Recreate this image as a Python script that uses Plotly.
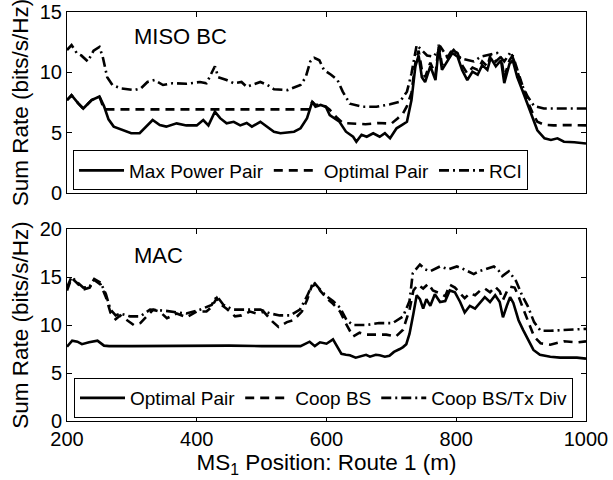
import plotly.graph_objects as go

# ---------------- Top panel: MISO BC ----------------
mpp_x = [200, 207, 217, 225, 238, 250, 257, 264, 272, 287, 299, 312, 322, 332, 343, 353, 369, 384, 400, 410,
         418, 428, 436, 446, 457, 467, 477, 485, 498, 509, 519, 529, 550, 560, 570, 578, 583, 591, 599, 605,
         620, 630, 641, 646, 654, 662, 672, 682, 690, 698, 708, 716, 724, 731, 737, 742, 747, 752, 760, 768,
         773, 778, 786, 794, 802, 809, 817, 825, 833, 840, 848, 853, 861, 869, 874, 882, 887, 894, 902, 910,
         918, 925, 936, 946, 956, 966, 982, 1000]
mpp_y = [7.7, 8.1, 7.45, 7.0, 7.7, 8.0, 7.2, 6.1, 5.5, 5.2, 4.95, 4.95, 5.5, 6.05, 5.63, 5.5, 5.77, 5.6, 5.6, 6.05,
         5.6, 6.74, 6.2, 5.77, 5.9, 5.6, 5.8, 5.5, 5.9, 5.5, 5.08, 4.95, 5.08, 5.36, 6.2, 7.56, 7.15, 7.3, 7.15, 6.46,
         5.9, 5.08, 4.66, 4.25, 4.83, 4.66, 4.95, 4.66, 4.95, 4.53, 5.36, 5.63, 5.9, 7.7, 10.5, 11.4, 9.6, 9.2, 10.5, 9.36,
         12.1, 10.2, 10.9, 11.6, 11.3, 10.2, 9.36, 10.05, 9.8, 10.6, 10.2, 11.2, 10.5, 11.0, 9.1, 10.7, 11.0, 9.6, 8.5, 7.4,
         6.3, 5.2, 4.53, 4.4, 4.53, 4.25, 4.2, 4.1]

op_x = [200, 207, 217, 225, 238, 250, 257, 300, 400, 500, 573, 578, 583, 591, 599, 605, 615, 625, 640, 660,
        680, 700, 710, 718, 724, 731, 737, 742, 747, 752, 760, 768, 773, 778, 786, 794, 802, 809, 817, 825,
        833, 840, 848, 853, 861, 869, 874, 882, 887, 894, 902, 910, 918, 925, 936, 950, 970, 1000]
op_y = [7.7, 8.1, 7.45, 7.0, 7.7, 8.0, 6.93, 6.93, 6.93, 6.93, 6.93, 7.56, 7.3, 7.3, 7.15, 6.9, 6.3, 5.8, 5.77, 5.7,
        5.8, 5.75, 6.2, 6.6, 7.2, 8.3, 10.8, 11.8, 10.2, 9.6, 10.8, 9.8, 12.3, 10.6, 11.2, 11.9, 11.6, 10.6, 9.9, 10.4,
        10.2, 10.9, 10.5, 11.5, 10.9, 11.3, 9.6, 11.0, 11.4, 10.2, 8.8, 7.6, 6.6, 5.9, 5.65, 5.6, 5.63, 5.6]

rci_x = [200, 207, 215, 222, 232, 241, 250, 255, 262, 270, 283, 304, 314, 324, 335, 348, 363, 384, 405, 415,
         428, 433, 446, 457, 469, 477, 498, 509, 519, 540, 560, 568, 575, 581, 589, 596, 607, 617, 625, 636,
         656, 677, 698, 713, 724, 731, 739, 747, 755, 765, 776, 786, 796, 807, 817, 827, 838, 848, 863, 874,
         884, 892, 899, 910, 920, 935, 1000]
rci_y = [11.85, 12.26, 11.6, 11.4, 10.9, 11.8, 12.1, 11.3, 9.6, 8.95, 8.67, 8.53, 8.67, 9.2, 9.36, 8.95, 9.1, 9.05, 9.2, 9.1,
         10.5, 9.6, 9.36, 9.1, 9.2, 8.8, 9.2, 8.95, 8.6, 8.53, 8.95, 9.6, 10.9, 11.2, 11.0, 10.2, 9.8, 9.36, 8.4, 7.4,
         7.15, 7.15, 7.35, 7.56, 8.4, 9.9, 12.26, 11.85, 11.4, 11.3, 12.1, 11.3, 11.85, 11.15, 11.0, 10.9, 11.3, 11.4, 11.6, 10.9,
         11.7, 10.5, 9.2, 8.0, 7.2, 7.0, 7.0]

# ---------------- Bottom panel: MAC ----------------
bop_x = [200, 208, 216, 223, 234, 247, 257, 265, 300, 350, 400, 450, 500, 560, 574, 582, 590, 600, 610, 618,
         623, 630, 636, 645, 651, 661, 667, 676, 682, 690, 697, 704, 713, 718, 723, 728, 734, 739, 744, 749,
         754, 760, 767, 775, 783, 790, 798, 806, 813, 821, 829, 837, 844, 852, 860, 867, 872, 878, 883, 888,
         896, 903, 911, 919, 929, 945, 960, 986, 1000]
bop_y = [7.74, 8.37, 8.26, 8.0, 8.2, 8.37, 7.85, 7.8, 7.8, 7.82, 7.8, 7.85, 7.8, 7.8, 8.26, 7.8, 8.2, 8.05, 8.5, 7.5,
         7.0, 6.9, 6.85, 6.6, 6.7, 6.9, 6.7, 6.9, 6.85, 6.7, 6.8, 7.2, 7.5, 7.7, 8.0, 9.1, 11.2, 13.1, 12.7, 11.7,
         12.7, 12.0, 13.2, 12.4, 12.5, 13.6, 13.4, 12.4, 11.3, 12.0, 11.7, 12.4, 12.9, 12.4, 13.1, 12.4, 10.8, 12.0, 12.9, 12.3,
         10.5, 9.5, 8.4, 7.4, 6.9, 6.7, 6.6, 6.6, 6.5]

cbs_x = [200, 207, 215, 225, 235, 242, 252, 260, 267, 275, 282, 292, 303, 313, 323, 333, 343, 354, 369, 384,
         400, 415, 423, 431, 436, 446, 459, 469, 482, 492, 503, 516, 526, 539, 549, 562, 570, 577, 585, 590,
         600, 610, 621, 631, 641, 651, 661, 676, 692, 707, 718, 728, 734, 741, 749, 757, 764, 775, 783, 790,
         798, 806, 813, 821, 829, 837, 844, 852, 860, 867, 872, 878, 883, 890, 896, 902, 910, 920, 930, 945,
         966, 987, 1000]
cbs_y = [13.6, 14.9, 14.4, 13.7, 13.9, 14.7, 14.2, 12.9, 11.3, 10.6, 11.0, 10.5, 10.0, 10.2, 10.9, 11.6, 11.4, 10.7, 11.2, 10.8,
         11.4, 11.4, 11.9, 12.8, 12.2, 11.7, 10.9, 11.0, 11.4, 11.2, 11.4, 10.4, 9.8, 10.3, 10.5, 11.4, 12.6, 14.0, 14.3, 13.6,
         12.8, 12.2, 11.4, 10.0, 8.8, 9.2, 9.0, 9.0, 9.0, 8.8, 9.5, 11.6, 13.6, 14.2, 13.8, 14.3, 13.6, 13.3, 13.0, 14.2,
         13.9, 13.3, 12.8, 13.3, 13.1, 13.6, 13.8, 13.4, 14.0, 13.5, 12.6, 13.5, 14.0, 13.9, 13.0, 11.9, 10.5, 8.8, 8.1, 7.95,
         8.3, 8.2, 8.3]

ctd_x = [200, 207, 215, 225, 235, 242, 252, 260, 267, 275, 282, 297, 313, 328, 349, 364, 384, 405, 423, 431,
         441, 456, 477, 498, 513, 528, 544, 559, 570, 580, 590, 600, 610, 621, 631, 641, 661, 681, 702, 718,
         728, 733, 744, 752, 760, 768, 775, 788, 801, 809, 817, 827, 835, 843, 858, 865, 871, 881, 892, 902,
         910, 920, 930, 945, 966, 987, 1000]
ctd_y = [13.9, 15.0, 14.5, 13.9, 14.0, 14.8, 14.4, 13.2, 11.6, 11.0, 11.2, 10.9, 10.9, 11.6, 11.5, 11.4, 11.2, 11.6, 12.1, 13.0,
         12.1, 11.6, 11.6, 11.6, 11.2, 11.0, 11.0, 11.6, 13.0, 14.5, 13.7, 13.0, 12.5, 11.8, 10.5, 10.0, 10.0, 10.2, 10.2, 10.9,
         12.5, 15.4, 16.3, 15.8, 15.6, 15.9, 16.1, 15.8, 16.1, 15.9, 15.6, 15.3, 15.6, 15.8, 16.1, 15.7, 15.1, 15.6, 14.6, 13.0,
         12.0, 10.3, 9.4, 9.4, 9.5, 9.6, 9.6]

x_ticks = [200, 400, 600, 800, 1000]
FONT = "Liberation Sans, Arial, Helvetica, sans-serif"
LW = 2.6
DASH = "9px,6px"
DASHDOT = "10px,4px,2px,4px"

fig = go.Figure()
fig.add_trace(go.Scatter(x=mpp_x, y=mpp_y, name="Max Power Pair", mode="lines",
                         line=dict(color="black", width=LW), xaxis="x", yaxis="y", legend="legend"))
fig.add_trace(go.Scatter(x=op_x, y=op_y, name="Optimal Pair", mode="lines",
                         line=dict(color="black", width=LW, dash=DASH), xaxis="x", yaxis="y", legend="legend"))
fig.add_trace(go.Scatter(x=rci_x, y=rci_y, name="RCI", mode="lines",
                         line=dict(color="black", width=LW, dash=DASHDOT), xaxis="x", yaxis="y", legend="legend"))

fig.add_trace(go.Scatter(x=bop_x, y=bop_y, name="Optimal Pair", mode="lines",
                         line=dict(color="black", width=LW), xaxis="x2", yaxis="y2", legend="legend2"))
fig.add_trace(go.Scatter(x=cbs_x, y=cbs_y, name="Coop BS", mode="lines",
                         line=dict(color="black", width=LW, dash=DASH), xaxis="x2", yaxis="y2", legend="legend2"))
fig.add_trace(go.Scatter(x=ctd_x, y=ctd_y, name="Coop BS/Tx Div", mode="lines",
                         line=dict(color="black", width=LW, dash=DASHDOT), xaxis="x2", yaxis="y2", legend="legend2"))

axis_common = dict(showline=True, linecolor="black", linewidth=1, mirror="ticks", ticks="inside",
                   ticklen=5, tickcolor="black", showgrid=False, zeroline=False, automargin=False,
                   tickfont=dict(size=20, color="black", family=FONT))

top_dom = [0.5575, 1.0]
bot_dom = [0.0, 0.4694]

legend_common = dict(xanchor="left", yanchor="middle", orientation="h",
                     bordercolor="black", borderwidth=1, bgcolor="white", itemwidth=45,
                     font=dict(size=19, family=FONT, color="black"), tracegroupgap=0)

fig.update_layout(
    width=613, height=480,
    margin=dict(l=67, r=27, t=12, b=59, autoexpand=False),
    paper_bgcolor="white", plot_bgcolor="white",
    font=dict(family=FONT, color="black"),
    xaxis=dict(axis_common, domain=[0, 1], range=[200, 1000], tickvals=x_ticks,
               showticklabels=False, anchor="y"),
    yaxis=dict(axis_common, domain=top_dom, range=[0, 15], tickvals=[0, 5, 10, 15], anchor="x",
               title=dict(text="Sum Rate (bits/s/Hz)", font=dict(size=22.5), standoff=4)),
    xaxis2=dict(axis_common, domain=[0, 1], range=[200, 1000], tickvals=x_ticks, anchor="y2",
                title=dict(text="MS<sub>1</sub> Position: Route 1 (m)", font=dict(size=22.5), standoff=0)),
    yaxis2=dict(axis_common, domain=bot_dom, range=[0, 20], tickvals=[0, 5, 10, 15, 20], anchor="x2",
                title=dict(text="Sum Rate (bits/s/Hz)", font=dict(size=22.5), standoff=4)),
    legend=dict(legend_common, x=0.0116, y=0.6125),
    legend2=dict(legend_common, x=0.0135, y=0.0562),
    annotations=[
        dict(text="MISO BC", x=300, y=12.93, xref="x", yref="y", xanchor="left", yanchor="middle",
             showarrow=False, font=dict(size=22, family=FONT, color="black")),
        dict(text="MAC", x=300, y=17.2, xref="x2", yref="y2", xanchor="left", yanchor="middle",
             showarrow=False, font=dict(size=22, family=FONT, color="black")),
    ],
)

fig.write_html("out.html")
